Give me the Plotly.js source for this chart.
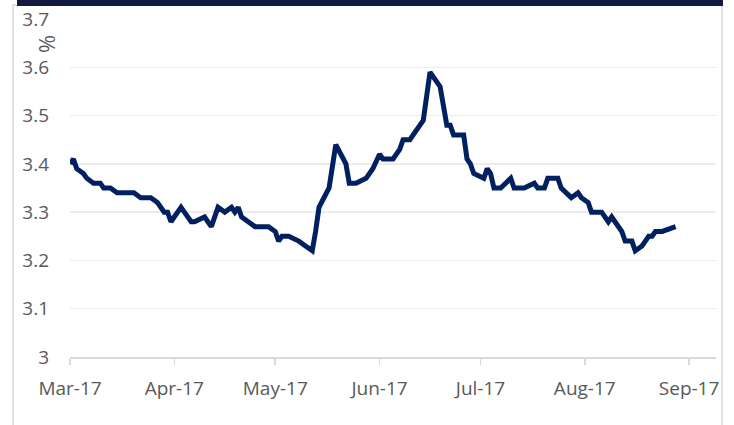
<!DOCTYPE html>
<html>
<head>
<meta charset="utf-8">
<script src="https://cdn.plot.ly/plotly-3.0.1.min.js"></script>
<style>
html,body{margin:0;padding:0;background:#fff;}
#chart{width:734px;height:425px;}
</style>
</head>
<body>
<div id="chart"></div>
<script>
// Observation dates (2017) and yields (%)
const dates = [
 '2017-03-01','2017-03-02','2017-03-03','2017-03-05','2017-03-06','2017-03-08','2017-03-10','2017-03-11','2017-03-13','2017-03-15',
 '2017-03-20','2017-03-22','2017-03-25','2017-03-27','2017-03-29','2017-03-30','2017-03-31','2017-04-03','2017-04-04','2017-04-06',
 '2017-04-07','2017-04-10','2017-04-12','2017-04-14','2017-04-16','2017-04-18','2017-04-19','2017-04-20','2017-04-21','2017-04-23',
 '2017-04-25','2017-04-29','2017-05-01','2017-05-02','2017-05-03','2017-05-05','2017-05-08','2017-05-10','2017-05-12','2017-05-13',
 '2017-05-14','2017-05-17','2017-05-19','2017-05-22','2017-05-23','2017-05-25','2017-05-28','2017-05-30','2017-06-01','2017-06-02',
 '2017-06-05','2017-06-07','2017-06-08','2017-06-10','2017-06-11','2017-06-13','2017-06-14','2017-06-16','2017-06-18','2017-06-19',
 '2017-06-21','2017-06-22','2017-06-23','2017-06-26','2017-06-27','2017-06-28','2017-06-29','2017-07-02','2017-07-03','2017-07-04',
 '2017-07-05','2017-07-07','2017-07-10','2017-07-11','2017-07-14','2017-07-17','2017-07-18','2017-07-20','2017-07-21','2017-07-24',
 '2017-07-25','2017-07-28','2017-07-30','2017-07-31','2017-08-02','2017-08-03','2017-08-06','2017-08-08','2017-08-09','2017-08-11',
 '2017-08-12','2017-08-13','2017-08-15','2017-08-16','2017-08-18','2017-08-19','2017-08-20','2017-08-21','2017-08-22','2017-08-24',
 '2017-08-28'
];
const yields = [
 3.40,3.41,3.39,3.38,3.37,3.36,3.36,3.35,3.35,3.34,
 3.34,3.33,3.33,3.32,3.30,3.30,3.28,3.31,3.30,3.28,
 3.28,3.29,3.27,3.31,3.30,3.31,3.30,3.31,3.29,3.28,
 3.27,3.27,3.26,3.24,3.25,3.25,3.24,3.23,3.22,3.26,
 3.31,3.35,3.44,3.40,3.36,3.36,3.37,3.39,3.42,3.41,
 3.41,3.43,3.45,3.45,3.46,3.48,3.49,3.59,3.57,3.56,
 3.48,3.48,3.46,3.46,3.41,3.40,3.38,3.37,3.39,3.38,
 3.35,3.35,3.37,3.35,3.35,3.36,3.35,3.35,3.37,3.37,
 3.35,3.33,3.34,3.33,3.32,3.30,3.30,3.28,3.29,3.27,
 3.26,3.24,3.24,3.22,3.23,3.24,3.25,3.25,3.26,3.26,
 3.27
];
const xTickVals = ['2017-03-01','2017-04-01','2017-05-01','2017-06-01','2017-07-01','2017-08-01','2017-09-01'];
const xTickText = ['Mar-17','Apr-17','May-17','Jun-17','Jul-17','Aug-17','Sep-17'];
const yTickVals = [3,3.1,3.2,3.3,3.4,3.5,3.6,3.7];
const yTickText = ['3','3.1','3.2','3.3','3.4','3.5','3.6','3.7'];

const W = 646, H = 338, L = 70, T = 19;
const px = v => (v - L) / W;
const py = v => (T + H - v) / H;

const font = {family: 'Open Sans, sans-serif', size: 19, color: '#595959'};

const trace = {
  x: dates, y: yields, type: 'scatter', mode: 'lines',
  line: {color: '#002060', width: 5, shape: 'linear'},
  hoverinfo: 'x+y'
};

const layout = {
  width: 734, height: 425,
  margin: {l: L, r: 734 - L - W, t: T, b: 425 - T - H, pad: 0},
  paper_bgcolor: '#ffffff', plot_bgcolor: '#ffffff',
  showlegend: false,
  font: font,
  xaxis: {
    type: 'date',
    range: ['2017-03-01', '2017-09-09'],
    tickvals: xTickVals, ticktext: xTickText,
    showgrid: false, zeroline: false,
    showline: true, linecolor: '#d9d9d9', linewidth: 1.5,
    ticks: 'outside', ticklen: 6, tickcolor: '#d9d9d9', tickwidth: 1.5,
    tickfont: font, ticklabelstandoff: 8
  },
  yaxis: {
    range: [3, 3.7],
    tickvals: yTickVals, ticktext: yTickText,
    showgrid: true, gridcolor: '#ececec', gridwidth: 1.5,
    zeroline: false, showline: false, ticks: '',
    tickfont: font, ticklabelstandoff: 20
  },
  annotations: [{
    text: '%', xref: 'paper', yref: 'paper',
    x: px(46), y: py(44), textangle: -90, showarrow: false,
    font: {family: 'Open Sans, sans-serif', size: 22, color: '#595959'},
    xanchor: 'center', yanchor: 'middle'
  }],
  shapes: [
    {type: 'rect', xref: 'paper', yref: 'paper',
     x0: px(13), x1: px(722), y0: py(430), y1: py(5),
     line: {color: '#d9d9d9', width: 1.5}, fillcolor: 'rgba(0,0,0,0)', layer: 'below'},
    {type: 'rect', xref: 'paper', yref: 'paper',
     x0: px(17), x1: px(723), y0: py(6), y1: py(-2),
     line: {width: 0}, fillcolor: '#131a42', layer: 'above'}
  ]
};

Plotly.newPlot('chart', [trace], layout, {staticPlot: true, displayModeBar: false});
</script>
</body>
</html>
